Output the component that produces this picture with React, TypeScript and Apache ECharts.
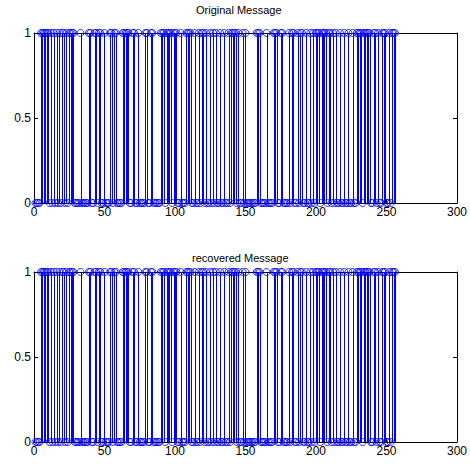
import React, { useEffect, useRef } from "react";
import * as echarts from "echarts";

// Transmitted bits (index 1..256)
const originalBits: number[] = [
  0, 0, 0, 0, 1, 1, 1, 1, 1, 1, 0, 1, 0, 1, 0, 1,
  0, 1, 0, 1, 1, 0, 1, 0, 1, 1, 1, 1, 0, 0, 0, 0,
  1, 0, 0, 0, 0, 0, 1, 1, 0, 0, 1, 1, 0, 1, 1, 0,
  0, 1, 0, 0, 0, 1, 1, 0, 1, 1, 0, 0, 0, 0, 1, 1,
  1, 1, 1, 0, 0, 1, 1, 0, 0, 1, 0, 0, 0, 0, 1, 1,
  0, 0, 1, 1, 0, 0, 0, 0, 0, 1, 1, 1, 0, 1, 1, 1,
  1, 0, 1, 1, 1, 0, 0, 1, 0, 0, 0, 1, 1, 1, 1, 0,
  0, 1, 0, 0, 1, 0, 1, 1, 0, 1, 0, 0, 1, 0, 1, 0,
  1, 0, 0, 1, 0, 0, 1, 0, 0, 1, 0, 1, 1, 1, 1, 0,
  1, 0, 0, 1, 0, 1, 0, 0, 0, 0, 0, 0, 0, 1, 1, 1,
  0, 0, 0, 0, 1, 0, 0, 0, 0, 1, 1, 1, 0, 0, 1, 1,
  0, 0, 0, 0, 1, 0, 1, 1, 0, 0, 1, 0, 1, 1, 0, 0,
  1, 0, 0, 1, 0, 1, 0, 1, 1, 1, 0, 1, 1, 1, 1, 0,
  1, 1, 0, 1, 0, 1, 0, 0, 1, 0, 0, 1, 0, 0, 1, 0,
  0, 1, 0, 0, 1, 1, 1, 1, 0, 1, 1, 1, 1, 1, 0, 0,
  1, 1, 0, 1, 0, 0, 1, 1, 1, 0, 0, 1, 0, 1, 1, 1,
];

// Recovered bits are identical to the original message
const recoveredBits: number[] = originalBits.slice();

const titles: string[] = ["Original Message", "recovered Message"];
const xTicks = { min: 0, max: 300, interval: 50 };
const yTicks = { min: 0, max: 1, interval: 0.5 };

const FONT = "'Liberation Sans', Arial, sans-serif";
const BLUE = "#0000ff";

export default function App() {
  const ref = useRef<HTMLDivElement>(null);

  useEffect(() => {
    if (!ref.current) return;
    const chart = echarts.init(ref.current, null, { renderer: "svg" });

    const grids = [
      { left: 34, right: 8, top: 33, height: 170 },
      { left: 34, right: 8, top: 272, height: 170 },
    ];

    const xAxes: any[] = [];
    const yAxes: any[] = [];
    const series: any[] = [];
    const dataSets = [originalBits, recoveredBits];

    grids.forEach((_, g) => {
      const baseX = {
        type: "value",
        gridIndex: g,
        min: xTicks.min,
        max: xTicks.max,
        interval: xTicks.interval,
        splitLine: { show: false },
        axisLine: { show: true, onZero: false, lineStyle: { color: "#000", width: 1 } },
        axisTick: { show: true, inside: true, length: 4, lineStyle: { color: "#000" } },
      };
      xAxes.push({
        ...baseX,
        position: "bottom",
        axisLabel: { show: true, color: "#000", fontSize: 12, fontFamily: FONT, margin: 3 },
      });
      xAxes.push({ ...baseX, position: "top", axisLabel: { show: false } });

      const baseY = {
        type: "value",
        gridIndex: g,
        min: yTicks.min,
        max: yTicks.max,
        interval: yTicks.interval,
        splitLine: { show: false },
        axisLine: { show: true, onZero: false, lineStyle: { color: "#000", width: 1 } },
        axisTick: { show: true, inside: true, length: 4, lineStyle: { color: "#000" } },
      };
      yAxes.push({
        ...baseY,
        position: "left",
        axisLabel: { show: true, color: "#000", fontSize: 12, fontFamily: FONT, margin: 3 },
      });
      yAxes.push({ ...baseY, position: "right", axisLabel: { show: false } });

      const pts = dataSets[g].map((v, i) => [i + 1, v]);
      series.push({
        type: "custom",
        xAxisIndex: g * 2,
        yAxisIndex: g * 2,
        data: pts,
        renderItem: (params: any, api: any) => {
          const x = api.value(0);
          const v = api.value(1);
          const p0 = api.coord([x, 0]);
          const p1 = api.coord([x, v]);
          const px = Math.round(p0[0]) + 0.5;
          return {
            type: "line",
            shape: { x1: px, y1: p0[1], x2: px, y2: p1[1] },
            style: { stroke: BLUE, lineWidth: 1 },
          };
        },
        z: 2,
      });
      series.push({
        type: "scatter",
        xAxisIndex: g * 2,
        yAxisIndex: g * 2,
        data: pts,
        symbol: "circle",
        symbolSize: 7,
        itemStyle: { color: "none", borderColor: BLUE, borderWidth: 1 },
        clip: false,
        z: 3,
      });
    });

    chart.setOption({
      animation: false,
      backgroundColor: "#fff",
      title: [
        {
          text: titles[0],
          left: 196,
          top: 4,
          padding: 0,
          textStyle: { fontSize: 11, fontWeight: "normal", color: "#000", fontFamily: FONT },
        },
        {
          text: titles[1],
          left: 192,
          top: 252,
          padding: 0,
          textStyle: { fontSize: 11, fontWeight: "normal", color: "#000", fontFamily: FONT },
        },
      ],
      grid: grids,
      xAxis: xAxes,
      yAxis: yAxes,
      series,
    });

    return () => chart.dispose();
  }, []);

  return (
    <div
      ref={ref}
      style={{ position: "fixed", left: 0, top: 0, width: 470, height: 466, background: "#fff" }}
    />
  );
}
